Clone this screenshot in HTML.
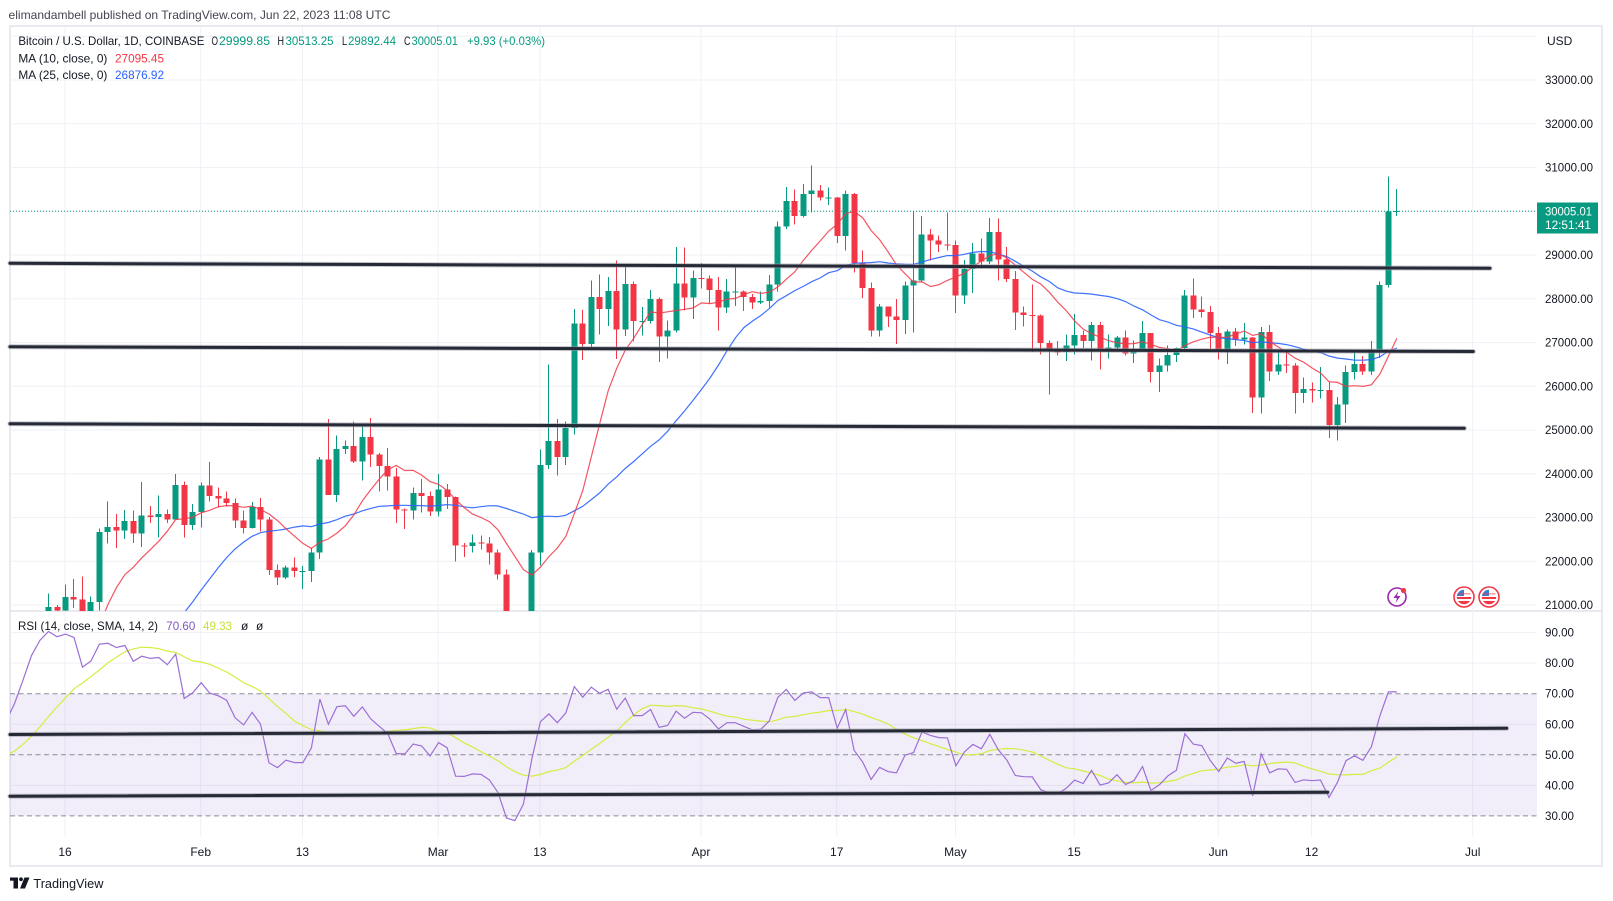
<!DOCTYPE html>
<html><head><meta charset="utf-8"><style>
html,body{margin:0;padding:0;background:#fff;}
svg{display:block;font-family:"Liberation Sans",sans-serif;}
</style></head><body>
<svg id="s" width="1613" height="901" viewBox="0 0 1613 901" xmlns="http://www.w3.org/2000/svg">
<defs>
<clipPath id="cp"><rect x="10" y="27" width="1527" height="584"/></clipPath>
<clipPath id="cr"><rect x="10" y="611" width="1527" height="226"/></clipPath>
<clipPath id="f1"><circle cx="1464" cy="597" r="7.2"/></clipPath>
<clipPath id="f2"><circle cx="1489" cy="597" r="7.2"/></clipPath>
</defs>
<rect x="0" y="0" width="1613" height="901" fill="#fff"/>
<text x="8.5" y="19" font-size="12" fill="#434651" textLength="382" lengthAdjust="spacingAndGlyphs">elimandambell published on TradingView.com, Jun 22, 2023 11:08 UTC</text>
<rect x="10" y="26" width="1592" height="840" fill="none" stroke="#e0e3eb" stroke-width="1.5"/>
<line x1="10" y1="611" x2="1602" y2="611" stroke="#e0e3eb" stroke-width="1.5"/>
<g id="grid" stroke="#eef1f6" stroke-width="1"></g>
<rect x="10" y="693.7" width="1527" height="122.2" fill="#7e57c2" fill-opacity="0.1"/>
<g stroke="#8a8d96" stroke-width="1" stroke-dasharray="5 3.5">
<line x1="10" y1="693.7" x2="1537" y2="693.7"/>
<line x1="10" y1="754.8" x2="1537" y2="754.8"/>
<line x1="10" y1="815.9" x2="1537" y2="815.9"/>
</g>
<line x1="10" y1="211.25" x2="1537" y2="211.25" stroke="#089981" stroke-width="1" stroke-dasharray="1 2"/>
<g id="cand" clip-path="url(#cp)" shape-rendering="crispEdges"></g>
<g id="ma" clip-path="url(#cp)" fill="none"></g>
<g id="rsi" clip-path="url(#cr)" fill="none"></g>
<g stroke-linecap="round">
<g stroke="#9a9da6" stroke-width="5" stroke-opacity="0.55">
<line x1="10" y1="263.3" x2="1490" y2="268.3"/>
<line x1="10" y1="346.7" x2="1473.3" y2="351.5"/>
<line x1="10" y1="423.8" x2="1464.3" y2="428.3"/>
<line x1="10" y1="734.5" x2="1506.7" y2="728.3"/>
<line x1="10" y1="796.2" x2="1327.7" y2="792.3"/>
</g>
<g stroke="#262936" stroke-width="3">
<line x1="10" y1="263.3" x2="1490" y2="268.3"/>
<line x1="10" y1="346.7" x2="1473.3" y2="351.5"/>
<line x1="10" y1="423.8" x2="1464.3" y2="428.3"/>
<line x1="10" y1="734.5" x2="1506.7" y2="728.3"/>
<line x1="10" y1="796.2" x2="1327.7" y2="792.3"/>
</g>
</g>
<!-- legends -->
<g font-size="12">
<text x="18.4" y="45" fill="#131722" textLength="186" lengthAdjust="spacingAndGlyphs">Bitcoin / U.S. Dollar, 1D, COINBASE</text>
<text x="211.5" y="45" fill="#131722" textLength="6.5" lengthAdjust="spacingAndGlyphs">O</text>
<text x="219" y="45" fill="#089981" textLength="51" lengthAdjust="spacingAndGlyphs">29999.85</text>
<text x="277.5" y="45" fill="#131722" textLength="6.5" lengthAdjust="spacingAndGlyphs">H</text>
<text x="285.5" y="45" fill="#089981" textLength="48" lengthAdjust="spacingAndGlyphs">30513.25</text>
<text x="342" y="45" fill="#131722" textLength="5" lengthAdjust="spacingAndGlyphs">L</text>
<text x="348" y="45" fill="#089981" textLength="48" lengthAdjust="spacingAndGlyphs">29892.44</text>
<text x="404" y="45" fill="#131722" textLength="6.5" lengthAdjust="spacingAndGlyphs">C</text>
<text x="411.5" y="45" fill="#089981" textLength="46.5" lengthAdjust="spacingAndGlyphs">30005.01</text>
<text x="467" y="45" fill="#089981" textLength="78" lengthAdjust="spacingAndGlyphs">+9.93 (+0.03%)</text>
<text x="18.4" y="62.6" fill="#131722" textLength="89" lengthAdjust="spacingAndGlyphs">MA (10, close, 0)</text>
<text x="115" y="62.6" fill="#f23645" textLength="49" lengthAdjust="spacingAndGlyphs">27095.45</text>
<text x="18.4" y="79" fill="#131722" textLength="89" lengthAdjust="spacingAndGlyphs">MA (25, close, 0)</text>
<text x="115" y="79" fill="#2962ff" textLength="49" lengthAdjust="spacingAndGlyphs">26876.92</text>
<text x="18" y="630" fill="#131722" textLength="140" lengthAdjust="spacingAndGlyphs">RSI (14, close, SMA, 14, 2)</text>
<text x="166.3" y="630" fill="#7e57c2" textLength="29" lengthAdjust="spacingAndGlyphs">70.60</text>
<text x="203" y="630" fill="#c9e03a" textLength="29" lengthAdjust="spacingAndGlyphs">49.33</text>
<text x="241" y="630" fill="#131722">ø</text>
<text x="256" y="630" fill="#131722">ø</text>
</g>
<!-- price axis -->
<g font-size="12" fill="#131722">
<text x="1547" y="45">USD</text>
<text x="1545" y="84" textLength="48" lengthAdjust="spacingAndGlyphs">33000.00</text>
<text x="1545" y="127.75" textLength="48" lengthAdjust="spacingAndGlyphs">32000.00</text>
<text x="1545" y="171.5" textLength="48" lengthAdjust="spacingAndGlyphs">31000.00</text>
<text x="1545" y="259" textLength="48" lengthAdjust="spacingAndGlyphs">29000.00</text>
<text x="1545" y="302.75" textLength="48" lengthAdjust="spacingAndGlyphs">28000.00</text>
<text x="1545" y="346.5" textLength="48" lengthAdjust="spacingAndGlyphs">27000.00</text>
<text x="1545" y="390.25" textLength="48" lengthAdjust="spacingAndGlyphs">26000.00</text>
<text x="1545" y="434" textLength="48" lengthAdjust="spacingAndGlyphs">25000.00</text>
<text x="1545" y="477.75" textLength="48" lengthAdjust="spacingAndGlyphs">24000.00</text>
<text x="1545" y="521.5" textLength="48" lengthAdjust="spacingAndGlyphs">23000.00</text>
<text x="1545" y="565.25" textLength="48" lengthAdjust="spacingAndGlyphs">22000.00</text>
<text x="1545" y="609" textLength="48" lengthAdjust="spacingAndGlyphs">21000.00</text>
<text x="1545" y="636.6" textLength="29" lengthAdjust="spacingAndGlyphs">90.00</text>
<text x="1545" y="667.2" textLength="29" lengthAdjust="spacingAndGlyphs">80.00</text>
<text x="1545" y="697.7" textLength="29" lengthAdjust="spacingAndGlyphs">70.00</text>
<text x="1545" y="728.25" textLength="29" lengthAdjust="spacingAndGlyphs">60.00</text>
<text x="1545" y="758.8" textLength="29" lengthAdjust="spacingAndGlyphs">50.00</text>
<text x="1545" y="789.35" textLength="29" lengthAdjust="spacingAndGlyphs">40.00</text>
<text x="1545" y="819.9" textLength="29" lengthAdjust="spacingAndGlyphs">30.00</text>
</g>
<rect x="1537" y="202.5" width="61" height="31" fill="#089981"/>
<text x="1545" y="215.6" font-size="12" fill="#fff" textLength="47" lengthAdjust="spacingAndGlyphs">30005.01</text>
<text x="1545" y="229.2" font-size="12" fill="#fff" textLength="46" lengthAdjust="spacingAndGlyphs">12:51:41</text>
<!-- time axis -->
<g font-size="12" fill="#131722" text-anchor="middle">
<text x="65" y="856">16</text>
<text x="200.7" y="856">Feb</text>
<text x="302.4" y="856">13</text>
<text x="438.1" y="856">Mar</text>
<text x="539.9" y="856">13</text>
<text x="701" y="856">Apr</text>
<text x="836.7" y="856">17</text>
<text x="955.4" y="856">May</text>
<text x="1074.1" y="856">15</text>
<text x="1218.3" y="856">Jun</text>
<text x="1311.6" y="856">12</text>
<text x="1472.7" y="856">Jul</text>
</g>
<!-- icons -->
<circle cx="1397" cy="597" r="9" fill="#fff" stroke="#9c27b0" stroke-width="1.6"/>
<path d="M1398.5 591 L1393.5 598 L1397 598 L1395.5 603 L1400.5 596 L1397 596 Z" fill="#9c27b0"/>
<circle cx="1403.5" cy="590.5" r="2.6" fill="#f23645"/>
<g>
<circle cx="1464" cy="597" r="10" fill="#fff" stroke="#f23645" stroke-width="1.6"/>
<g clip-path="url(#f1)">
<rect x="1456" y="589" width="16" height="16" fill="#fff"/>
<rect x="1456" y="597" width="16" height="2" fill="#f23645"/>
<rect x="1456" y="601" width="16" height="5" fill="#f23645"/>
<rect x="1456" y="589" width="8" height="7" fill="#3c7bd4"/>
<rect x="1456" y="593" width="16" height="1.5" fill="#f23645" opacity="0.5"/>
</g>
<circle cx="1489" cy="597" r="10" fill="#fff" stroke="#f23645" stroke-width="1.6"/>
<g clip-path="url(#f2)">
<rect x="1481" y="589" width="16" height="16" fill="#fff"/>
<rect x="1481" y="597" width="16" height="2" fill="#f23645"/>
<rect x="1481" y="601" width="16" height="5" fill="#f23645"/>
<rect x="1481" y="589" width="8" height="7" fill="#3c7bd4"/>
<rect x="1481" y="593" width="16" height="1.5" fill="#f23645" opacity="0.5"/>
</g>
</g>
<!-- TradingView logo -->
<g fill="#131722">
<rect x="10" y="877.5" width="8" height="3.2"/>
<rect x="13.5" y="877.5" width="4.5" height="11"/>
<circle cx="21" cy="879.3" r="1.9"/>
<polygon points="24.5,877.5 29.5,877.5 25,888.5 20,888.5"/>
</g>
<text x="33.4" y="888" font-size="13" fill="#131722" textLength="70" lengthAdjust="spacingAndGlyphs">TradingView</text>
</svg>
<script>
(function(){
var NS="http://www.w3.org/2000/svg";
var d=8.48,x0=65;
function X(n){return x0+n*d;}
function YP(p){return 80+(33000-p)*0.04375;}
function YR(v){return 693.7+(70-v)*3.055;}
function el(t,a,p){var e=document.createElementNS(NS,t);for(var k in a)e.setAttribute(k,a[k]);p.appendChild(e);return e;}
var g=document.getElementById("grid");
for(var p=21000;p<=34000;p+=1000){var y=YP(p);el("line",{x1:10,y1:y,x2:1537,y2:y},g);}
[90,80,60,40].forEach(function(v){var y=YR(v);el("line",{x1:10,y1:y,x2:1537,y2:y},g);});
[0,16,28,44,56,75,91,105,119,136,147,166].forEach(function(n){var x=X(n);el("line",{x1:x,y1:27,x2:x,y2:837},g);});
var pre=[16970,17090,16890,17110,16970,17090,16840,17230,17130,17130,17090,17210,17780,17810,17360,16630,16780,16740,16440,16900,16820,16830,16780,16840,16830,16920,16700,16550,16630,16600,16540,
16610,16670,16670,16850,16830,16950,16940,17120,17180,17440,17940,18850,19930];
var o=[
[19930,21260,19890,20950],[20950,21000,20550,20870],[20870,21470,20600,21180],[21180,21600,20930,21130],[21130,21650,20400,20670],[20670,21190,20660,21070],[21070,22750,20870,22670],[22670,23370,22410,22780],[22780,23080,22300,22700],[22700,23170,22510,22920],[22920,23160,22420,22630],[22630,23810,22330,23050],[23050,23260,22880,23010],[23010,23500,22540,23080],[23080,23180,22880,22960],[22960,24000,22950,23740],[23740,23820,22540,22830],[22830,23310,22720,23130],
[23130,23800,22770,23730],[23730,24270,23370,23490],[23490,23690,23230,23430],[23430,23590,23250,23330],[23330,23440,22760,22930],[22930,23160,22630,22760],[22760,23360,22750,23240],[23240,23450,22680,22960],[22960,23010,21690,21800],[21800,21930,21460,21630],[21630,21900,21600,21860],[21860,22090,21640,21780],[21780,21890,21370,21780],[21780,22310,21530,22200],[22200,24380,22050,24330],[24330,25250,23510,23520],[23520,24880,23350,24570],[24570,24760,24450,24630],[24630,25190,24250,24280],[24280,25120,23850,24840],[24840,25280,24150,24440],[24440,24480,23590,24180],[24180,24590,23620,23940],[23940,24130,22870,23180],[23180,23210,22740,23160],[23160,23690,22960,23560],[23560,23880,23120,23490],[23490,23600,23030,23140],
[23140,24000,23020,23640],[23640,23770,23190,23470],[23470,23480,22000,22360],[22360,22420,22100,22350],[22350,22610,22200,22430],[22430,22590,22270,22410],[22410,22550,21930,22200],[22200,22270,21580,21700],[21700,21810,19570,20360],[20360,20370,19550,20190],[20190,20790,19900,20630],[20630,22260,20410,22200],[22200,24550,21900,24200],[24200,26500,24110,24750],[24750,25250,23960,24380],[24380,25200,24200,25050],[25050,27770,24900,27440],[27440,27740,26600,26970],[26970,28420,26880,28040],[28040,28550,27180,27770],[27770,28500,27380,28180],[28180,28880,26620,27300],[27300,28770,27150,28340],[28340,28400,27020,27490],[27490,27810,27160,27490],[27490,28200,27440,27990],[27990,28030,26550,27140],[27140,27500,26640,27270],[27270,29180,27230,28350],[28350,29170,27730,28030],[28030,28650,27540,28480],
[28480,28820,28240,28460],[28460,28530,27880,28200],[28200,28500,27280,27800],[27800,28450,27680,28170],[28170,28780,27830,28170],[28170,28190,27720,28040],[28040,28110,27770,27920],[27920,28170,27880,27950],[27950,28540,27800,28330],[28330,29770,28170,29650],[29650,30560,29600,30230],[30230,30500,29700,29890],[29890,30620,29860,30400],[30400,31050,29970,30480],[30480,30600,30250,30320],[30320,30540,30140,30320],[30320,30330,29270,29440],[29440,30480,29100,30400],[30400,30420,28600,28820],[28820,29100,28020,28250],[28250,28370,27140,27270],[27270,27880,27140,27820],[27820,27820,27360,27590],[27590,28000,26970,27520],[27520,28400,27200,28300],[28300,29990,27230,28420],[28420,29890,28400,29470],[29470,29590,28880,29330],[29330,29450,29070,29240],[29240,29970,29100,29230],
[29230,29330,27670,28070],[28070,28890,27880,28680],[28680,29270,28130,29030],[29030,29380,28690,28850],[28850,29850,28800,29530],[29530,29830,28420,28900],[28900,29180,28380,28450],[28450,28640,27290,27690],[27690,27820,27370,27630],[27630,28330,26780,27620],[27620,27640,26730,26990],[26990,27050,25810,26800],[26800,27030,26700,26780],[26780,27180,26580,26930],[26930,27650,26730,27170],[27170,27270,26880,27030],[27030,27470,26590,27400],[27400,27470,26380,26830],[26830,27180,26640,26890],[26890,27150,26850,27110],[27110,27270,26700,26750],[26750,27050,26530,26850],[26850,27490,26800,27220],[27220,27220,26090,26330],[26330,26630,25870,26480],[26480,26930,26340,26720],[26720,26890,26560,26870],[26870,28200,26780,28080],[28080,28460,27560,27750],[27750,28050,27570,27700],[27700,27840,26850,27220],
[27220,27350,26610,26820],[26820,27300,26510,27250],[27250,27330,26920,27070],[27070,27450,26960,27120],[27120,27130,25390,25740],[25740,27350,25380,27240],[27240,27400,26120,26340],[26340,26810,26260,26500],[26500,26780,26300,26480],[26480,26530,25380,25850],[25850,26200,25620,25940],[25940,26090,25630,25900],[25900,26440,25720,25920],[25920,26100,24820,25120],[25120,25750,24760,25580],[25580,26480,25160,26330],[26330,26780,26160,26510],[26510,26690,26260,26340],[26340,27030,26260,26840],[26840,28400,26650,28310],[28310,30800,28260,30000],[29999.85,30513.25,29892.44,30005.01]
];
var cg=document.getElementById("cand");
o.forEach(function(r,i){
 var n=-2+i, cx=Math.round(X(n));
 var up=r[3]>=r[0], col=up?"#089981":"#f23645";
 var yh=YP(r[1]), yl=YP(r[2]), yo=YP(r[0]), yc=YP(r[3]);
 el("rect",{x:cx,y:yh,width:1,height:Math.max(1,yl-yh),fill:col},cg);
 var t=Math.min(yo,yc), h=Math.max(1,Math.abs(yo-yc));
 el("rect",{x:cx-2.5,y:t,width:6,height:h,fill:col},cg);
});
var c=pre.concat(o.map(function(r){return r[3];}));
var N0=-46;
function ma(k){var pts=[];for(var i=k-1;i<c.length;i++){var s=0;for(var j=i-k+1;j<=i;j++)s+=c[j];var n=N0+i;if(n<-10)continue;pts.push((X(n)+0.5).toFixed(1)+","+YP(s/k).toFixed(1));}return pts.join(" ");}
var mg=document.getElementById("ma");
el("polyline",{points:ma(25),stroke:"#2962ff","stroke-width":1.2,"stroke-opacity":0.9},mg);
el("polyline",{points:ma(10),stroke:"#f23645","stroke-width":1.2,"stroke-opacity":0.85},mg);
var rsi=[],au=0,ad=0;
for(var i=1;i<c.length;i++){
 var ch=c[i]-c[i-1],u=Math.max(ch,0),dn=Math.max(-ch,0);
 if(i<=14){au+=u/14;ad+=dn/14;if(i<14){rsi[i]=null;continue;}}
 else{au=(au*13+u)/14;ad=(ad*13+dn)/14;}
 rsi[i]=ad==0?100:100-100/(1+au/ad);
}
var rp=[],sp=[];
for(var i=14;i<c.length;i++){
 var n=N0+i; if(n<-9)continue;
 rp.push((X(n)+0.5).toFixed(1)+","+YR(rsi[i]).toFixed(1));
 if(i>=27){var s=0;for(var j=i-13;j<=i;j++)s+=rsi[j];sp.push((X(n)+0.5).toFixed(1)+","+YR(s/14).toFixed(1));}
}
var rg=document.getElementById("rsi");
el("polyline",{points:sp.join(" "),stroke:"#d7ec3f","stroke-width":1.2},rg);
el("polyline",{points:rp.join(" "),stroke:"#9c6fd6","stroke-width":1.2},rg);
})();
</script>
</body></html>
